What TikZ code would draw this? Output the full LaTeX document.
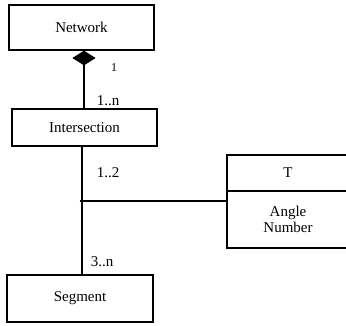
\documentclass[tikz,border=0pt]{standalone}
\usepackage{fontspec}
\setmainfont{Liberation Serif}
\usetikzlibrary{shapes.geometric}
\begin{document}
\begin{tikzpicture}[x=1pt,y=-1pt,
  box/.style={draw, line width=1.6pt, rectangle, inner sep=0pt, font=\fontsize{15}{16}\selectfont},
  conn/.style={line width=1.8pt},
  lbl/.style={inner sep=0pt, font=\fontsize{15}{16}\selectfont},
  small/.style={inner sep=0pt, font=\fontsize{12}{13}\selectfont}]
\clip (0,0) rectangle (346,325);
\fill[white] (0,0) rectangle (346,325);
\node[box, minimum width=145pt, minimum height=45pt] (net) at (81.5,27.5) {Network};
\node[box, minimum width=145pt, minimum height=37pt] (int) at (84.5,127.5) {Intersection};
\node[box, minimum width=146pt, minimum height=47pt] (seg) at (80,298.5) {Segment};
\node[box, minimum width=122pt, minimum height=36pt] (ttop) at (288,173) {T};
\node[box, minimum width=122pt, minimum height=57pt, align=center] (tbody) at (288,219.5) {Angle\\Number};
\node[diamond, draw, fill=black, line width=0.8pt, minimum width=22pt, minimum height=14pt, inner sep=0pt] (dia) at (84,58) {};
\coordinate (j) at (82,201);
\coordinate (js) at (79.5,201);
\draw[conn] (dia.south) -- (dia.south |- int.north);
\draw[conn] (int.south -| j) -- (seg.north -| j);
\draw[conn] (js) -- (tbody.north west |- js);
\node[small] (m1) at (114,68) {1};
\node[lbl] (m2) at (108,101) {1..n};
\node[lbl] (m3) at (108,173) {1..2};
\node[lbl] (m4) at (102,262) {3..n};
\end{tikzpicture}
\end{document}
